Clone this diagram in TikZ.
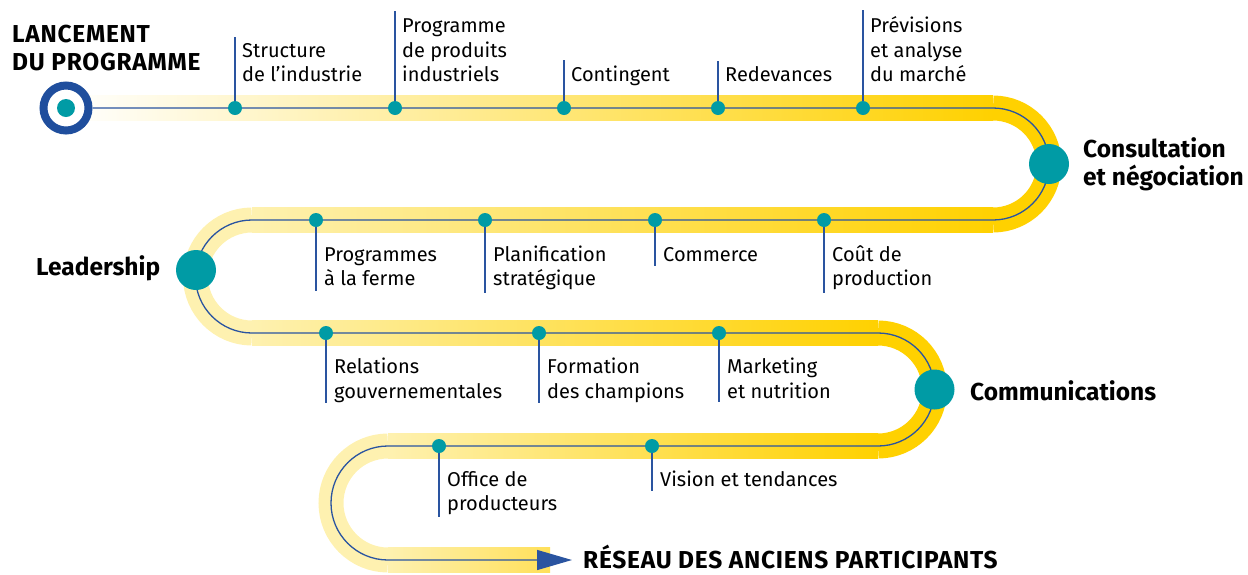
\documentclass[tikz,border=0pt]{standalone}
\usepackage{fontspec}
\setmainfont{Fira Sans}
\usetikzlibrary{arrows.meta}
\definecolor{gold}{RGB}{255,209,0}
\definecolor{pale}{RGB}{254,241,176}
\definecolor{midgold}{RGB}{255,224,90}
\definecolor{tealdot}{RGB}{0,155,165}
\definecolor{linkblue}{RGB}{42,84,160}
\definecolor{ringblue}{RGB}{31,78,157}
\tikzset{
  band/.style={line width=25pt},
  track/.style={draw=linkblue, line width=1.3pt},
  stem/.style={draw=linkblue, line width=1.3pt},
  dot/.style={circle, fill=tealdot, inner sep=0pt, minimum size=14pt},
  bigdot/.style={circle, fill=tealdot, inner sep=0pt, minimum size=40pt},
  startring/.style={circle, draw=ringblue, line width=8pt, fill=white, inner sep=0pt, minimum size=45pt,
    path picture={\fill[tealdot] (path picture bounding box.center) circle[radius=9pt];}},
  lbl/.style={font=\fontsize{20}{24.5}\selectfont, align=left, inner sep=0pt, anchor=base west},
  head/.style={font=\fontsize{24.5}{28}\selectfont\bfseries, align=left, inner sep=0pt, anchor=base west},
  caphead/.style={head, font=\fontsize{24.5}{28}\selectfont\bfseries\addfontfeature{LetterSpace=3}},
}
\begin{document}
\begin{tikzpicture}[x=1pt,y=-1pt]
    \useasboundingbox (0,0) rectangle (1248,574);
    \shade [left color=white, right color=gold] (66,95.5) rectangle (993,120.5);
    \draw [band, gold] (993,108) arc[start angle=-90, end angle=90, radius=56];
    \shade [left color=pale, right color=gold] (252,207.5) rectangle (993,232.5);
    \draw [band, pale] (252,220) arc[start angle=-90, end angle=-270, radius=56.5];
    \shade [left color=pale, right color=gold] (252,320.5) rectangle (878,345.5);
    \draw [band, gold] (878,333) arc[start angle=-90, end angle=90, radius=56.5];
    \shade [left color=pale, right color=gold] (388,433.5) rectangle (878,458.5);
    \draw [band, pale] (388,446) arc[start angle=-90, end angle=-270, radius=57];
    \shade [left color=pale, right color=midgold] (388,547.5) rectangle (550,572.5);
    \node [startring] (start) at (66,108) {};
    \coordinate (tip) at (572,560);
    \draw [track, -{Triangle[length=35pt, width=20pt]}] (start.east) -- (993,108)
        arc[start angle=-90, end angle=90, radius=56] -- (252,220)
        arc[start angle=-90, end angle=-270, radius=56.5] -- (878,333)
        arc[start angle=-90, end angle=90, radius=56.5] -- (388,446)
        arc[start angle=-90, end angle=-270, radius=57] -- (tip);
    \node [caphead] (launch) at (12,70) {LANCEMENT\\DU PROGRAMME};
    \node [bigdot] (consult) at (1049,164) {};
    \node [head] (consultlbl) at (1083,185) {Consultation\\et négociation};
    \node [bigdot] (lead) at (196,270) {};
    \node [head] (leadlbl) at (36,275) {Leadership};
    \node [bigdot] (comms) at (934.5,389.5) {};
    \node [head] (commslbl) at (970,400.5) {Communications};
    \node [caphead] (alumni) at (583,568) {RÉSEAU DES ANCIENS PARTICIPANTS};
    \node [dot] (struct) at (235,108) {};
    \node [lbl] (structlbl) at (242,81.7) {Structure\\de l'industrie};
    \draw [stem] (struct.north) -- ([yshift=6pt] struct |- structlbl.north);
    \node [dot] (prod) at (395,108) {};
    \node [lbl] (prodlbl) at (402,81.7) {Programme\\de produits\\industriels};
    \draw [stem] (prod.north) -- ([yshift=8pt] prod |- prodlbl.north);
    \node [dot] (quota) at (564,108) {};
    \node [lbl] (quotalbl) at (571,81.7) {Contingent};
    \draw [stem] (quota.north) -- ([yshift=6pt] quota |- quotalbl.north);
    \node [dot] (levy) at (718,108) {};
    \node [lbl] (levylbl) at (725,81.7) {Redevances};
    \draw [stem] (levy.north) -- ([yshift=6pt] levy |- levylbl.north);
    \node [dot] (market) at (863,108) {};
    \node [lbl] (marketlbl) at (870,81.7) {Prévisions\\et analyse\\du marché};
    \draw [stem] (market.north) -- ([yshift=6pt] market |- marketlbl.north);
    \node [dot] (farm) at (316,220) {};
    \node [lbl] (farmlbl) at (324,285.5) {Programmes\\à la ferme};
    \draw [stem] (farm.south) -- ([yshift=-5pt] farm |- farmlbl.south);
    \node [dot] (plan) at (485,220) {};
    \node [lbl] (planlbl) at (493,285.5) {Planification\\stratégique};
    \draw [stem] (plan.south) -- ([yshift=-3pt] plan |- planlbl.south);
    \node [dot] (trade) at (655,220) {};
    \node [lbl] (tradelbl) at (663,261) {Commerce};
    \draw [stem] (trade.south) -- ([yshift=-5pt] trade |- tradelbl.south);
    \node [dot] (cost) at (824,220) {};
    \node [lbl] (costlbl) at (832,285.5) {Coût de\\production};
    \draw [stem] (cost.south) -- ([yshift=-3pt] cost |- costlbl.south);
    \node [dot] (govt) at (326,333) {};
    \node [lbl] (govtlbl) at (334,398) {Relations\\gouvernementales};
    \draw [stem] (govt.south) -- ([yshift=-1pt] govt |- govtlbl.south);
    \node [dot] (champ) at (539,333) {};
    \node [lbl] (champlbl) at (547,398) {Formation\\des champions};
    \draw [stem] (champ.south) -- ([yshift=-1pt] champ |- champlbl.south);
    \node [dot] (nutri) at (719,333) {};
    \node [lbl] (nutrilbl) at (727,398) {Marketing\\et nutrition};
    \draw [stem] (nutri.south) -- ([yshift=-4pt] nutri |- nutrilbl.south);
    \node [dot] (office) at (439,446) {};
    \node [lbl] (officelbl) at (447,510.5) {Office de\\producteurs};
    \draw [stem] (office.south) -- ([yshift=-2pt] office |- officelbl.south);
    \node [dot] (vision) at (652,446) {};
    \node [lbl] (visionlbl) at (660,486) {Vision et tendances};
    \draw [stem] (vision.south) -- ([yshift=-5pt] vision |- visionlbl.south);
\end{tikzpicture}
\end{document}
